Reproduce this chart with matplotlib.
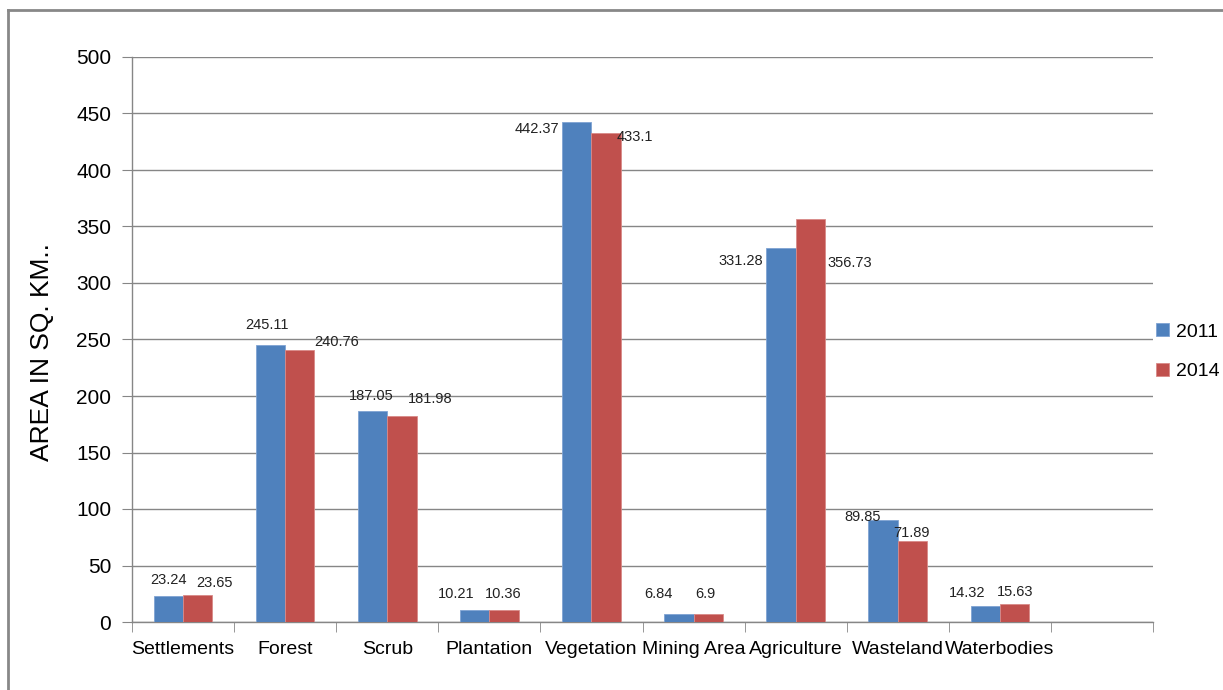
import numpy as np
import matplotlib.pyplot as plt
from matplotlib.lines import Line2D

# Land use areas (sq. km)
categories = ['Settlements', 'Forest', 'Scrub', 'Plantation', 'Vegetation',
              'Mining Area', 'Agriculture', 'Wasteland', 'Waterbodies', '']
area_2011 = [23.24, 245.11, 187.05, 10.21, 442.37, 6.84, 331.28, 89.85, 14.32]
area_2014 = [23.65, 240.76, 181.98, 10.36, 433.1, 6.9, 356.73, 71.89, 15.63]

# label offsets in pixels (dx, dy) relative to top centre of each bar
off_2011 = [(0, 16), (-3, 20), (-1, 15), (-19, 16), (-40, -7),
            (-20, 20), (-40, -13), (-20, 3), (-18, 13)]
off_2014 = [(17, 12), (37, 8), (28, 17), (-1, 16), (29, -4),
            (-3, 20), (39, -44), (-1, 8), (1, 12)]

plt.rcParams['font.family'] = ['Liberation Sans', 'DejaVu Sans']

fig = plt.figure(figsize=(12.23, 6.9), dpi=100)
ax = fig.add_axes([132 / 1223, 68 / 690, 1021 / 1223, 565 / 690])

blue = '#4F81BD'
red = '#C0504D'
w = 0.287
x = np.arange(len(area_2011))

b1 = ax.bar(x - w / 2, area_2011, w, color=blue, edgecolor='#7FA3D3',
            linewidth=0.6, label='2011', zorder=3)
b2 = ax.bar(x + w / 2, area_2014, w, color=red, edgecolor='#D98A88',
            linewidth=0.6, label='2014', zorder=3)

for xi, v, (dx, dy) in zip(x - w / 2, area_2011, off_2011):
    ax.annotate(f'{v:g}', (xi, v), xytext=(dx, dy), textcoords='offset pixels',
                ha='center', va='center', fontsize=10.5, color='#222222')
for xi, v, (dx, dy) in zip(x + w / 2, area_2014, off_2014):
    ax.annotate(f'{v:g}', (xi, v), xytext=(dx, dy), textcoords='offset pixels',
                ha='center', va='center', fontsize=10.5, color='#222222')

ax.set_xlim(-0.5, len(categories) - 0.5)
ax.set_ylim(0, 500)
ax.set_yticks(np.arange(0, 501, 50))
ax.tick_params(axis='y', labelsize=15, length=7, color='#868686', pad=8)

ax.set_xticks(np.arange(len(categories)))
ax.set_xticklabels(categories, fontsize=14)
ax.set_xticks(np.arange(-0.5, len(categories)), minor=True)
ax.tick_params(axis='x', which='major', length=0, pad=14)
ax.tick_params(axis='x', which='minor', length=7, color='#868686')

ax.grid(axis='y', color='#868686', linewidth=1.0, zorder=0)
for s in ['top', 'right']:
    ax.spines[s].set_visible(False)
for s in ['left', 'bottom']:
    ax.spines[s].set_color('#868686')
    ax.spines[s].set_linewidth(1.0)

fig.text(42 / 1223, 1 - 352 / 690, 'AREA IN SQ. KM..', rotation=90,
         ha='center', va='center', fontsize=19)

ax.legend(loc='center left', bbox_to_anchor=(1.003, 0.478), frameon=False,
          fontsize=14, handlelength=0.65, handleheight=0.65, handletextpad=0.35,
          labelspacing=1.15, borderaxespad=0.0, borderpad=0.0)

# outer chart frame
fig.add_artist(Line2D([8 / 1223, 8 / 1223], [0, 1 - 10 / 690],
                      transform=fig.transFigure, color='#888888', lw=2))
fig.add_artist(Line2D([8 / 1223, 1], [1 - 10 / 690, 1 - 10 / 690],
                      transform=fig.transFigure, color='#888888', lw=2))

fig.savefig('out.png', dpi=100)
